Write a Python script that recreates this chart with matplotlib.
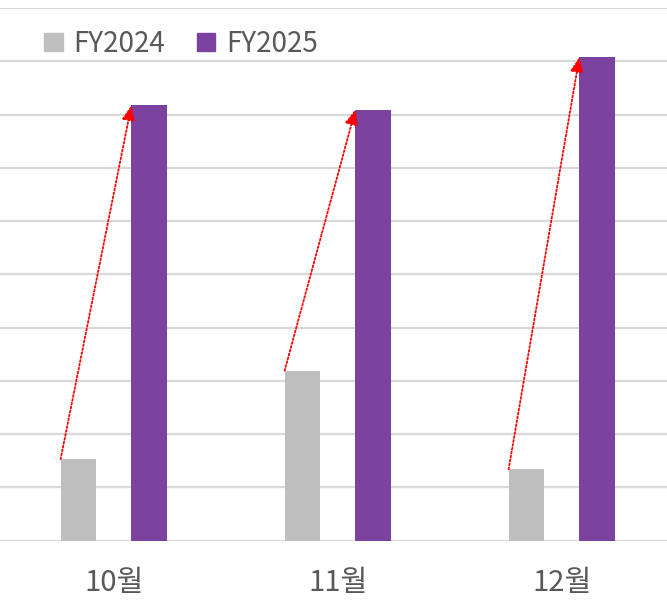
import matplotlib.pyplot as plt
from matplotlib.patches import Patch
import numpy as np

plt.rcParams['font.family'] = ['Noto Sans CJK KR', 'DejaVu Sans']

months = ['10월', '11월', '12월']
series_names = ['FY2024', 'FY2025']
fy2024 = [1.53, 3.19, 1.34]
fy2025 = [8.17, 8.09, 9.08]

c24 = '#bfbfbf'
c25 = '#7b42a0'
txt = '#595959'

fig = plt.figure(figsize=(6.67, 6.0), dpi=100)
ax = fig.add_axes([0, 0.099, 1, 0.8877])

x = np.arange(len(months))
w = 0.158
off = 0.158
ax.bar(x - off, fy2024, width=w, color=c24, zorder=3)
ax.bar(x + off, fy2025, width=w, color=c25, zorder=3)

# 증가 화살표 (회색 막대 왼쪽 위 -> 보라 막대 왼쪽 위)
for i in range(len(months)):
    ax.annotate('', xy=(x[i] + off - w / 2, fy2025[i]),
                xytext=(x[i] - off - w / 2, fy2024[i]),
                arrowprops=dict(arrowstyle='-|>,head_length=0.9,head_width=0.4',
                                color='red', lw=1.3, linestyle=(0, (1, 1.2)),
                                shrinkA=0, shrinkB=0),
                zorder=5)

ax.set_xlim(-0.5076, 2.470)
ax.set_ylim(0, 10)
ax.set_yticks(np.arange(0, 11, 1))
ax.yaxis.grid(True, color='#d9d9d9', lw=1.6, zorder=0)
ax.set_yticklabels([])
ax.tick_params(axis='y', length=0)
ax.set_xticks(x)
ax.set_xticklabels(months, fontsize=21, color=txt)
ax.tick_params(axis='x', length=0, pad=20)
for s in ax.spines.values():
    s.set_visible(False)
ax.set_axisbelow(True)

handles = [Patch(color=c24, label=series_names[0]),
           Patch(color=c25, label=series_names[1])]
leg = ax.legend(handles=handles, ncol=2, frameon=False, loc='upper left',
                bbox_to_anchor=(0.05, 0.982), fontsize=20,
                handlelength=0.65, handleheight=0.65, handletextpad=0.4,
                columnspacing=1.15, borderaxespad=0)
for t in leg.get_texts():
    t.set_color(txt)

fig.savefig('out.png', dpi=100)
